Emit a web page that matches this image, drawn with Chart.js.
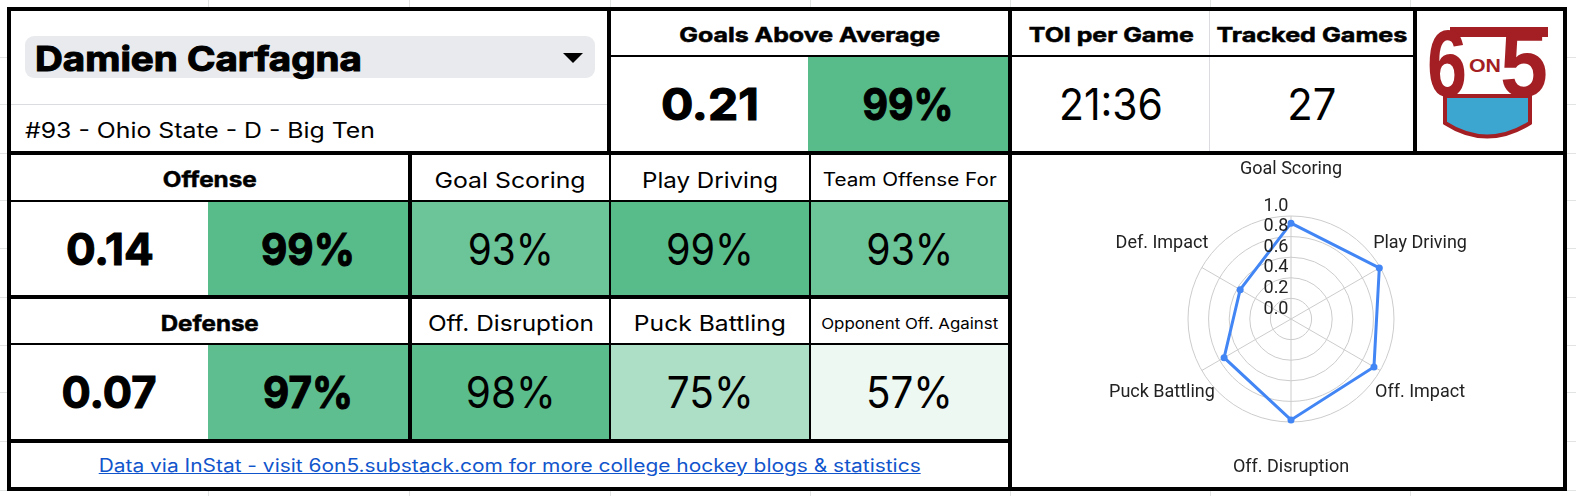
<!DOCTYPE html>
<html><head><meta charset="utf-8">
<script src="https://cdn.jsdelivr.net/npm/chart.js@4.4.1/dist/chart.umd.min.js"></script>
<style>
html,body{margin:0;padding:0;background:#fff;width:1576px;height:496px;overflow:hidden;font-family:Inter,sans-serif;color:#000;}
.a{position:absolute;box-sizing:border-box;}
.cell{display:flex;align-items:center;justify-content:center;}
.t{white-space:nowrap;display:inline-block;line-height:1.2;}
</style></head><body>
<div id="root"></div>
<script>
// ---------------- DATA ----------------
const playerName = 'Damien Carfagna';
const playerInfo = '#93 - Ohio State - D - Big Ten';
const summaryLabels = ['Goals Above Average', 'TOI per Game', 'Tracked Games'];
const summaryValues = ['0.21', '21:36', '27'];
const gaaPercentile = 99;
const groupLabels = ['Offense', 'Defense'];
const groupValues = ['0.14', '0.07'];
const groupPercentiles = [99, 97];
const offenseLabels = ['Goal Scoring', 'Play Driving', 'Team Offense For'];
const offensePercentiles = [93, 99, 93];
const defenseLabels = ['Off. Disruption', 'Puck Battling', 'Opponent Off. Against'];
const defensePercentiles = [98, 75, 57];
const footerText = 'Data via InStat - visit 6on5.substack.com for more college hockey blogs & statistics';
const radarLabels = ['Goal Scoring', 'Play Driving', 'Off. Impact', 'Off. Disruption', 'Puck Battling', 'Def. Impact'];
const radarValues = [0.93, 0.99, 0.93, 0.98, 0.75, 0.57];
const radarTickValues = [0, 0.2, 0.4, 0.6, 0.8, 1.0];

// ---------------- LAYOUT ----------------
const root = document.getElementById('root');
const fits = [];
function rect(x1, y1, x2, y2, bg, cls) {
  const d = document.createElement('div');
  d.className = 'a ' + (cls || '');
  Object.assign(d.style, {left: x1 + 'px', top: y1 + 'px', width: (x2 - x1) + 'px', height: (y2 - y1) + 'px', background: bg || 'transparent'});
  root.appendChild(d);
  return d;
}
function text(cell, str, font, target, origin, dy) {
  const s = document.createElement('span');
  s.className = 't';
  s.textContent = str;
  s.style.font = font;
  if (font.indexOf('700') === 0) s.style.webkitTextStroke = (parseFloat(font.split(' ')[1]) > 30 ? 1.1 : 0.5) + 'px #000';
  if (dy) { s.style.position = 'relative'; s.style.top = dy + 'px'; }
  cell.appendChild(s);
  fits.push([s, target, origin || 'center']);
  return s;
}
function heat(p) {
  const f = Math.max(0, Math.min(1, (p - 52) / (99 - 52)));
  const c = [255 - f * 168, 255 - f * 68, 255 - f * 117].map(Math.round);
  return 'rgb(' + c.join(',') + ')';
}
const pct = v => v + '%';

// spreadsheet grid behind
[208, 409, 610, 810, 1010, 1210, 1410].forEach(x => rect(x, 0, x + 1, 496, '#e2e3e3'));
[57, 104, 153, 200, 248, 297, 345, 392, 441, 490].forEach(y => rect(0, y, 1576, y + 1, '#e2e3e3'));
// outer white panel
rect(9, 9, 1565, 489, '#fff');

const B = '700 ';
const R = '400 ';
// top row: name
const chip = rect(25, 36, 595, 78, '#e8eaed', 'cell');
chip.style.borderRadius = '9px';
chip.style.justifyContent = 'flex-start';
chip.style.paddingLeft = '10px';
text(chip, playerName, B + '34px Inter', 327, 'left', 1);
const arrow = rect(563, 53, 583, 63);
arrow.style.borderLeft = '10px solid transparent';
arrow.style.borderRight = '10px solid transparent';
arrow.style.borderTop = '10px solid #000';
arrow.style.width = '0'; arrow.style.height = '0';
rect(11, 104, 607, 105, '#dadce0');
const info = rect(25, 108, 600, 151, null, 'cell');
info.style.justifyContent = 'flex-start';
text(info, playerInfo, R + '21px Inter', 350, 'left', 1);

// GAA block
text(rect(611, 11, 1008, 55, null, 'cell'), summaryLabels[0], B + '20px Inter', 261, 'center', 2);
text(rect(611, 57, 808, 151, null, 'cell'), summaryValues[0], B + '44px Inter', 98);
text(rect(808, 57, 1008, 151, heat(gaaPercentile), 'cell'), pct(gaaPercentile), B + '44px Inter', 91);
// TOI / Tracked
text(rect(1012, 11, 1210, 55, null, 'cell'), summaryLabels[1], B + '20px Inter', 165, 'center', 2);
text(rect(1012, 57, 1210, 151, null, 'cell'), summaryValues[1], R + '44px Inter', 104);
text(rect(1210, 11, 1413, 55, null, 'cell'), summaryLabels[2], B + '20px Inter', 191, 'center', 2);
text(rect(1210, 57, 1413, 151, null, 'cell'), summaryValues[2], R + '44px Inter', 49);
rect(1209, 11, 1210, 151, '#dadce0');

// Offense / Defense rows
const rowsY = [[155, 200, 202, 295], [299, 343, 345, 439]];
const groupLabelW = [94, 98], groupValW = [88, 95], groupPctW = [94, 90];
const subLabels = [offenseLabels, defenseLabels];
const subPcts = [offensePercentiles, defensePercentiles];
const subLabelFonts = [[22, 22, 18], [22, 22, 15]];
const subLabelW = [[151, 136, 174], [166, 152, 177]];
const subPctW = [[86, 88, 87], [90, 87, 87]];
const colX = [[412, 609], [611, 809], [811, 1008]];
rowsY.forEach((r, gi) => {
  text(rect(11, r[0], 408, r[1], null, 'cell'), groupLabels[gi], B + '21px Inter', groupLabelW[gi], 'center', 2);
  text(rect(11, r[2], 208, r[3], null, 'cell'), groupValues[gi], B + '44px Inter', groupValW[gi]);
  text(rect(208, r[2], 408, r[3], heat(groupPercentiles[gi]), 'cell'), pct(groupPercentiles[gi]), B + '44px Inter', groupPctW[gi]);
  colX.forEach((cx, ci) => {
    text(rect(cx[0], r[0], cx[1], r[1], null, 'cell'), subLabels[gi][ci], R + subLabelFonts[gi][ci] + 'px Inter', subLabelW[gi][ci], 'center', 2);
    text(rect(cx[0], r[2], cx[1], r[3], heat(subPcts[gi][ci]), 'cell'), pct(subPcts[gi][ci]), R + '44px Inter', subPctW[gi][ci]);
  });
});
// footer
const ft = text(rect(11, 443, 1008, 487, null, 'cell'), footerText, R + '18px Inter', 822);
ft.style.color = '#1155cc';
ft.style.textDecoration = 'underline';

// black borders
const K = '#000';
rect(7, 7, 1567, 11, K); rect(7, 487, 1567, 491, K);
rect(7, 7, 11, 491, K); rect(1563, 7, 1567, 491, K);
rect(11, 151, 1563, 155, K);
rect(607, 11, 611, 151, K);
rect(1008, 11, 1012, 487, K);
rect(1413, 11, 1417, 151, K);
rect(611, 55, 1413, 57, K);
rect(408, 155, 412, 439, K);
rect(609, 155, 611, 439, K);
rect(809, 155, 811, 439, K);
rect(11, 200, 1008, 202, K);
rect(11, 295, 1008, 299, K);
rect(11, 343, 1008, 345, K);
rect(11, 439, 1008, 443, K);

// logo
const logo = document.createElementNS('http://www.w3.org/2000/svg', 'svg');
logo.setAttribute('class', 'a');
logo.setAttribute('viewBox', '1417 11 146 140');
Object.assign(logo.style, {left: '1417px', top: '11px', width: '146px', height: '140px'});
logo.innerHTML =
  '<path d="M1445,96 L1445,123 Q1487,150 1530,123 L1530,96 Z" fill="#3ca5d0" stroke="#a31f24" stroke-width="4"/>' +
  '<rect x="1450" y="27" width="98" height="10" fill="#a31f24"/>' +
  '<text x="1427" y="96" font-family="Liberation Sans" font-weight="700" font-size="94" fill="#a31f24" textLength="40" lengthAdjust="spacingAndGlyphs">6</text>' +
  '<text x="1500" y="96" font-family="Liberation Sans" font-weight="700" font-size="94" fill="#a31f24" textLength="48" lengthAdjust="spacingAndGlyphs">5</text>' +
  '<text x="1469" y="72" font-family="Liberation Sans" font-weight="700" font-size="19" fill="#a31f24" textLength="32" lengthAdjust="spacingAndGlyphs">ON</text>';
root.appendChild(logo);

// radar chart container
const box = rect(1012, 155, 1563, 487, '#fff');
const cv = document.createElement('canvas');
box.appendChild(cv);

function doFits() {
  fits.forEach(([s, target, origin]) => {
    s.style.transform = '';
    const w = s.getBoundingClientRect().width;
    if (w > 0) {
      s.style.transformOrigin = origin === 'left' ? 'left center' : 'center center';
      s.style.transform = 'scaleX(' + (target / w).toFixed(4) + ')';
    }
  });
}
doFits();
if (document.fonts && document.fonts.ready) document.fonts.ready.then(doFits);

const labelPlugin = {
  id: 'sheetLabels',
  afterDraw(chart) {
    const s = chart.scales.r;
    const ctx = chart.ctx;
    ctx.save();
    ctx.fillStyle = '#222';
    ctx.font = '18px Roboto';
    ctx.textAlign = 'center';
    ctx.textBaseline = 'middle';
    chart.data.labels.forEach((l, i) => {
      const p = s.getPointPosition(i, s.drawingArea + 46);
      ctx.fillText(l, p.x, p.y - 1);
    });
    s.ticks.forEach(t => {
      const d = s.getDistanceFromCenterForValue(t.value);
      ctx.fillText(t.label, s.xCenter - 15, s.yCenter - d - 10);
    });
    ctx.restore();
  }
};

new Chart(cv, {
  type: 'radar',
  data: {
    labels: radarLabels,
    datasets: [{
      data: radarValues,
      borderColor: '#4285f4',
      backgroundColor: '#4285f4',
      borderWidth: 3,
      pointRadius: 3.5,
      pointBorderWidth: 0,
      pointBackgroundColor: '#4285f4',
      fill: false,
      tension: 0
    }]
  },
  options: {
    responsive: true,
    maintainAspectRatio: false,
    animation: false,
    layout: {padding: {left: 176, right: 169, top: 61, bottom: 65}},
    plugins: {legend: {display: false}, tooltip: {enabled: false}},
    scales: {
      r: {
        min: radarTickValues[0],
        max: radarTickValues[radarTickValues.length - 1],
        ticks: {stepSize: 0.2, display: false, callback: v => Number(v).toFixed(1)},
        grid: {circular: true, color: '#cccccc', lineWidth: 1},
        angleLines: {color: '#cccccc', lineWidth: 1},
        pointLabels: {display: false}
      }
    }
  },
  plugins: [labelPlugin]
});
</script></body></html>
